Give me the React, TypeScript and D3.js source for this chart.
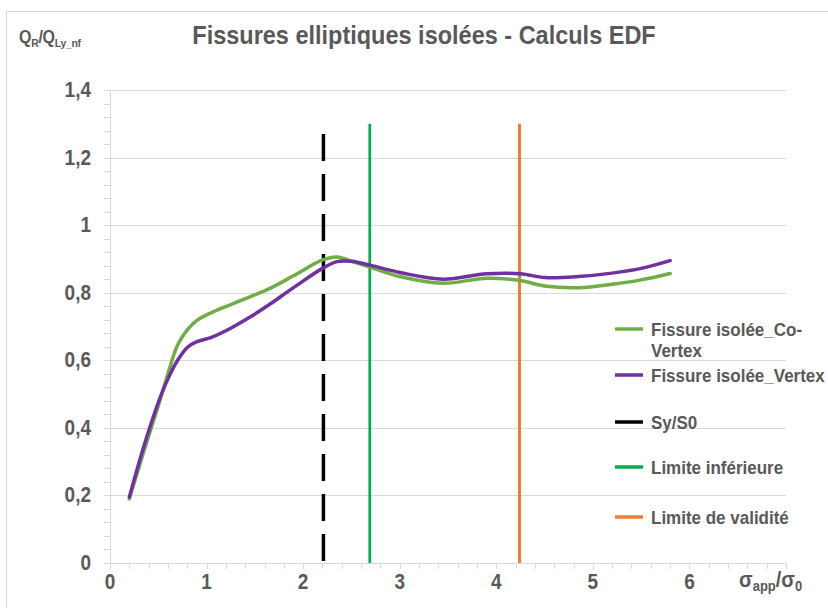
import React from "react";
import * as d3 from "d3";

const xValues = [0.2, 0.35, 0.5, 0.6, 0.7, 0.8, 0.9, 1.05, 1.25, 1.45, 1.65, 1.9, 2.2, 2.35, 2.5, 2.7, 3.0, 3.45, 3.9, 4.25, 4.5, 4.85, 5.2, 5.5, 5.8];
const coVertex = [0.19, 0.33, 0.465, 0.56, 0.645, 0.69, 0.718, 0.741, 0.765, 0.788, 0.812, 0.85, 0.897, 0.906, 0.893, 0.875, 0.848, 0.828, 0.843, 0.836, 0.82, 0.815, 0.825, 0.838, 0.857];
const vertex = [0.195, 0.345, 0.475, 0.545, 0.6, 0.638, 0.655, 0.668, 0.695, 0.728, 0.765, 0.815, 0.872, 0.892, 0.893, 0.881, 0.86, 0.84, 0.856, 0.856, 0.845, 0.848, 0.858, 0.872, 0.895];

const syS0 = { x: 2.21, y0: 0, y1: 1.27 };
const limInf = { x: 2.69, y0: 0, y1: 1.3 };
const limVal = { x: 4.24, y0: 0, y1: 1.3 };

const xTickLabels = ["0", "1", "2", "3", "4", "5", "6"];
const yTickValues = [0, 0.2, 0.4, 0.6, 0.8, 1, 1.2, 1.4];
const yTickLabels = ["0", "0,2", "0,4", "0,6", "0,8", "1", "1,2", "1,4"];

const legendItems = [
  { lines: ["Fissure isolée_Co-", "Vertex"], color: "#70ad47" },
  { lines: ["Fissure isolée_Vertex"], color: "#7030a0" },
  { lines: ["Sy/S0"], color: "#000000" },
  { lines: ["Limite inférieure"], color: "#00b050" },
  { lines: ["Limite de validité"], color: "#ed7d31" },
];

export default function App() {
  const W = 828, H = 608;
  const x = d3.scaleLinear().domain([0, 7]).range([110, 786]);
  const y = d3.scaleLinear().domain([0, 1.4]).range([563, 90]);
  const line = d3
    .line<number>()
    .x((_, i) => x(xValues[i]))
    .y((d) => y(d))
    .curve(d3.curveCatmullRom.alpha(0.5));

  const font = "'Liberation Sans', Arial, sans-serif";
  const gray = "#595959";
  const xMinor = d3.range(0, 36).map((i) => i * 0.2);
  const yMinor = d3.range(0, 36).map((i) => i * 0.04);
  const sy = 1.12;
  const tf = (tx: number, ty: number) => `translate(${tx},${ty}) scale(1,${sy})`;

  const legendY = [329, 375, 422, 467, 517];

  return (
    <svg width={W} height={H} style={{ position: "absolute", left: 0, top: 0 }} fontFamily={font}>
      <rect x={0} y={0} width={W} height={H} fill="#fff" />
      <rect x={6.5} y={11.5} width={900} height={700} fill="none" stroke="#d9d9d9" />
      {/* gridlines */}
      {yTickValues.slice(1).map((v) => (
        <line key={v} x1={110} x2={786} y1={Math.round(y(v)) + 0.5} y2={Math.round(y(v)) + 0.5} stroke="#d9d9d9" strokeWidth={1} />
      ))}
      {/* axes */}
      <line x1={110.5} x2={110.5} y1={90} y2={563} stroke="#d9d9d9" />
      <line x1={110} x2={786} y1={563.5} y2={563.5} stroke="#d9d9d9" />
      {yMinor.map((v, i) => (
        <line key={"ym" + i} x1={104} x2={110} y1={Math.round(y(v)) + 0.5} y2={Math.round(y(v)) + 0.5} stroke="#d9d9d9" />
      ))}
      {xMinor.map((v, i) => (
        <line key={"xm" + i} x1={Math.round(x(v)) + 0.5} x2={Math.round(x(v)) + 0.5} y1={563} y2={569} stroke="#d9d9d9" />
      ))}
      {/* tick labels */}
      {yTickValues.map((v, i) => (
        <text key={"yl" + v} transform={tf(91, y(v) + 7)} textAnchor="end" fontSize={19} fontWeight="bold" fill={gray}>
          {yTickLabels[i]}
        </text>
      ))}
      {xTickLabels.map((t, i) => (
        <text key={"xl" + t} transform={tf(x(i), 589)} textAnchor="middle" fontSize={19} fontWeight="bold" fill={gray}>
          {t}
        </text>
      ))}
      <text transform={tf(739, 587)} fontSize={20} fontWeight="bold" fill={gray}>
        σ<tspan fontSize={13} dy={4}>app</tspan>
        <tspan fontSize={20} dy={-4}>/σ</tspan>
        <tspan fontSize={13} dy={4}>0</tspan>
      </text>
      {/* title */}
      <text transform={tf(424, 44)} textAnchor="middle" fontSize={23.5} fontWeight="bold" fill={gray}>
        Fissures elliptiques isolées - Calculs EDF
      </text>
      <text transform={tf(19, 43)} fontSize={16} fontWeight="bold" fill={gray} letterSpacing={-0.3}>
        Q<tspan fontSize={10.5} dy={4}>R</tspan>
        <tspan fontSize={16} dy={-4}>/Q</tspan>
        <tspan fontSize={10.5} dy={4}>Ly_nf</tspan>
      </text>
      {/* vertical lines */}
      <line x1={x(syS0.x)} x2={x(syS0.x)} y1={y(syS0.y1)} y2={y(syS0.y0)} stroke="#000" strokeWidth={3.5} strokeDasharray="27,13" />
      <line x1={x(limInf.x)} x2={x(limInf.x)} y1={y(limInf.y1)} y2={y(limInf.y0)} stroke="#00b050" strokeWidth={2.75} />
      <line x1={x(limVal.x)} x2={x(limVal.x)} y1={y(limVal.y1)} y2={y(limVal.y0)} stroke="#ed7d31" strokeWidth={3} />
      {/* curves */}
      <path d={line(coVertex) || ""} fill="none" stroke="#70ad47" strokeWidth={3.5} strokeLinecap="round" />
      <path d={line(vertex) || ""} fill="none" stroke="#7030a0" strokeWidth={3.5} strokeLinecap="round" />
      {/* legend */}
      {legendItems.map((it, i) => (
        <g key={"lg" + i}>
          <line x1={615} x2={643} y1={legendY[i]} y2={legendY[i]} stroke={it.color} strokeWidth={3.5} />
          {it.lines.map((t, j) => (
            <text key={j} transform={`translate(651,${legendY[i] + 6.5 + j * 21}) scale(1,1.04)`} fontSize={17} fontWeight="bold" fill={gray}>
              {t}
            </text>
          ))}
        </g>
      ))}
    </svg>
  );
}
